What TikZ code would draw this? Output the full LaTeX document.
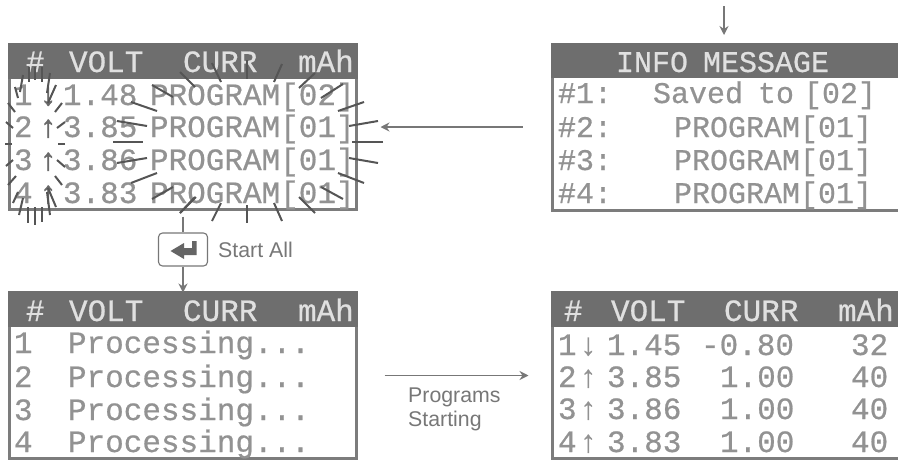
\documentclass[tikz,border=0pt]{standalone}
\usepackage{fontspec}
\usetikzlibrary{arrows.meta}
\setmainfont{Liberation Sans}
\newfontfamily\lcdfont[FakeBold=0.6]{Liberation Mono}
\newfontfamily\lcdarrow[FakeBold=2]{Liberation Mono}
\definecolor{hdr}{HTML}{6E6E6E}
\definecolor{edge}{HTML}{7C7C7C}
\definecolor{lcdgray}{HTML}{929292}
\definecolor{lcdwhite}{HTML}{E0E0E0}
\definecolor{flow}{HTML}{777777}
\definecolor{burst}{HTML}{555555}
\definecolor{darkarrow}{HTML}{6A6A6A}
\tikzset{
  panel/.style={draw=edge,line width=3pt,fill=white,rectangle,inner sep=0pt,outer sep=0pt},
  lcd/.style={anchor=base west,inner sep=0pt,outer sep=0pt,text=lcdgray,font=\lcdfont\fontsize{31}{31}\selectfont},
  lcdi/.style={lcd,font=\lcdfont\fontsize{30}{30}\selectfont},
  lcdup/.style={lcd,text=darkarrow,font=\lcdarrow\fontsize{31}{31}\selectfont},
  head/.style={text=lcdwhite},
  flowline/.style={draw=flow,line width=1.2pt,-{Stealth[length=9pt,width=9pt,inset=3pt]}},
  flowplain/.style={draw=flow,line width=1.2pt},
  raystroke/.style={draw=burst,line width=2pt},
  caption/.style={anchor=base west,inner sep=0pt,text=flow,font=\fontsize{21.3}{24}\selectfont},
}
\begin{document}
\begin{tikzpicture}[x=1pt,y=-1pt]
\useasboundingbox (0,0) rectangle (898,461);
% panels
\node[panel,minimum width=347pt,minimum height=165pt] (tl) at (183,127) {};
\node[panel,minimum width=346.5pt,minimum height=166pt] (tr) at (725.75,127) {};
\node[panel,minimum width=347pt,minimum height=166pt] (bl) at (183,375.5) {};
\node[panel,minimum width=346.5pt,minimum height=166pt] (br) at (725.75,375.5) {};
\foreach \p in {tl,tr,bl,br}
  \fill[hdr] ([xshift=-1.5pt,yshift=1.5pt]\p.north west) rectangle ([xshift=1.5pt,yshift=-34pt]\p.north east);
% top-left
\node[lcd,head] (tlh1) at (26,72) {\#};
\node[lcd,head] (tlh2) at (69,72) {VOLT};
\node[lcd,head] (tlh3) at (183,72) {CURR};
\node[lcd,head] (tlh4) at (298,72) {mAh};
\node[lcd] (tla1) at (14,105) {1};
\node[lcdup] (tlb1) at (39,105) {↓};
\node[lcd] (tlc1) at (63,105) {1.48};
\node[lcd] (tld1) at (150,105) {PROGRAM[02]};
\node[lcd] (tla2) at (14,137) {2};
\node[lcdup] (tlb2) at (39,137) {↑};
\node[lcd] (tlc2) at (63,137) {3.85};
\node[lcd] (tld2) at (150,137) {PROGRAM[01]};
\node[lcd] (tla3) at (14,170) {3};
\node[lcdup] (tlb3) at (39,170) {↑};
\node[lcd] (tlc3) at (63,170) {3.86};
\node[lcd] (tld3) at (150,170) {PROGRAM[01]};
\node[lcd] (tla4) at (14,203) {4};
\node[lcdup] (tlb4) at (39,203) {↑};
\node[lcd] (tlc4) at (63,203) {3.83};
\node[lcd] (tld4) at (150,203) {PROGRAM[01]};
% top-right
\node[lcdi,head] (trh) at (616,72) {INFO\kern-3pt\ MESSAGE};
\node[lcdi] (tra1) at (558,103) {\#1:};
\node[lcdi] (trb1) at (653,103) {Saved\kern-3pt\ to\kern-8pt\ [02]};
\node[lcdi] (tra2) at (558,137) {\#2:};
\node[lcdi] (trb2) at (674,137) {PROGRAM[01]};
\node[lcdi] (tra3) at (558,170) {\#3:};
\node[lcdi] (trb3) at (674,170) {PROGRAM[01]};
\node[lcdi] (tra4) at (558,203) {\#4:};
\node[lcdi] (trb4) at (674,203) {PROGRAM[01]};
% bottom-left
\node[lcd,head] (blh1) at (26,321) {\#};
\node[lcd,head] (blh2) at (69,321) {VOLT};
\node[lcd,head] (blh3) at (183,321) {CURR};
\node[lcd,head] (blh4) at (298,321) {mAh};
\node[lcd] (bla1) at (14,353) {1};
\node[lcd] (blb1) at (68,353) {Processing...};
\node[lcd] (bla2) at (14,387) {2};
\node[lcd] (blb2) at (68,387) {Processing...};
\node[lcd] (bla3) at (14,420) {3};
\node[lcd] (blb3) at (68,420) {Processing...};
\node[lcd] (bla4) at (14,452) {4};
\node[lcd] (blb4) at (68,452) {Processing...};
% bottom-right
\node[lcd,head] (brh1) at (564,321) {\#};
\node[lcd,head] (brh2) at (611,321) {VOLT};
\node[lcd,head] (brh3) at (724,321) {CURR};
\node[lcd,head] (brh4) at (838,321) {mAh};
\node[lcd] (bra1) at (558,355) {1};
\node[lcd] (brb1) at (579,355) {↓};
\node[lcd] (brc1) at (607,355) {1.45};
\node[lcd] (brd1) at (701,355) {-0.80};
\node[lcd] (bre1) at (851,355) {32};
\node[lcd] (bra2) at (558,387) {2};
\node[lcd] (brb2) at (579,387) {↑};
\node[lcd] (brc2) at (607,387) {3.85};
\node[lcd] (brd2) at (720,387) {1.00};
\node[lcd] (bre2) at (851,387) {40};
\node[lcd] (bra3) at (558,419) {3};
\node[lcd] (brb3) at (579,419) {↑};
\node[lcd] (brc3) at (607,419) {3.86};
\node[lcd] (brd3) at (720,419) {1.00};
\node[lcd] (bre3) at (851,419) {40};
\node[lcd] (bra4) at (558,452) {4};
\node[lcd] (brb4) at (579,452) {↑};
\node[lcd] (brc4) at (607,452) {3.83};
\node[lcd] (brd4) at (720,452) {1.00};
\node[lcd] (bre4) at (851,452) {40};
% burst rays
\foreach \a/\b/\c/\d in {
 15/87/18/98, 23/75/20/92, 29/67/29/82, 35/67/35/80, 42/67/42/82, 50/73/47/93, 56/85/48/103,
 62/103/55/112, 65/122/57/128, 65/144/58/144, 57/160/65/167, 55/176/62/185, 48/188/56/207,
 47/192/50/215, 42/207/42/222, 35/207/35/225, 28/207/28/223, 23/198/19/215, 18/192/13/203,
 8/185/16/176, 13/160/6/166, 12/144/5/144, 6/122/13/128, 8/103/15/112,
 180/72/195/87, 152/85/173/97, 131/102/157/111, 117/121/147/126, 113/142/143/142,
 117/163/147/158, 131/183/157/173, 152/199/173/187, 180/213/195/197,
 212/63/221/82, 247/60/247/79, 282/64/274/82, 315/73/299/88, 343/84/321/98, 364/102/338/111,
 378/121/349/126, 383/142/352/142, 378/163/349/158, 338/173/364/183, 321/187/343/199,
 299/197/315/213, 274/203/282/221, 247/205/247/223, 221/203/212/221, 196/197/180/213}
  \draw[raystroke] (\a,\b) -- (\c,\d);
% enter key
\node[draw=flow,line width=1.1pt,rounded corners=4pt,fill=white,minimum width=49pt,minimum height=33pt,inner sep=0pt] (key) at (183,249.5) {};
\fill[flow!85!black] (170.5,251) -- (184,243) -- (184,248) -- (192,248) -- (192,241) -- (196.5,241) -- (196.5,255) -- (184,255) -- (184,259) -- cycle;
\node[caption] (startall) at (218,257) {Start All};
\node[caption,align=left,anchor=north west] (starting) at (408,387.5) {Programs\\Starting};
% connectors
\coordinate (topin) at (724,6);
\draw[flowplain,shorten <=7pt] (tl.south) -- (key.north);
\draw[flowline] (key.south) -- (bl.north);
\draw[flowline,shorten >=9pt] (topin) -- (tr.north -| topin);
\draw[flowline,shorten <=30pt,shorten >=24pt] (tr.west) -- (tl.east);
\draw[flowline,shorten <=28pt,shorten >=24pt] (bl.east) -- (br.west);
\end{tikzpicture}
\end{document}
